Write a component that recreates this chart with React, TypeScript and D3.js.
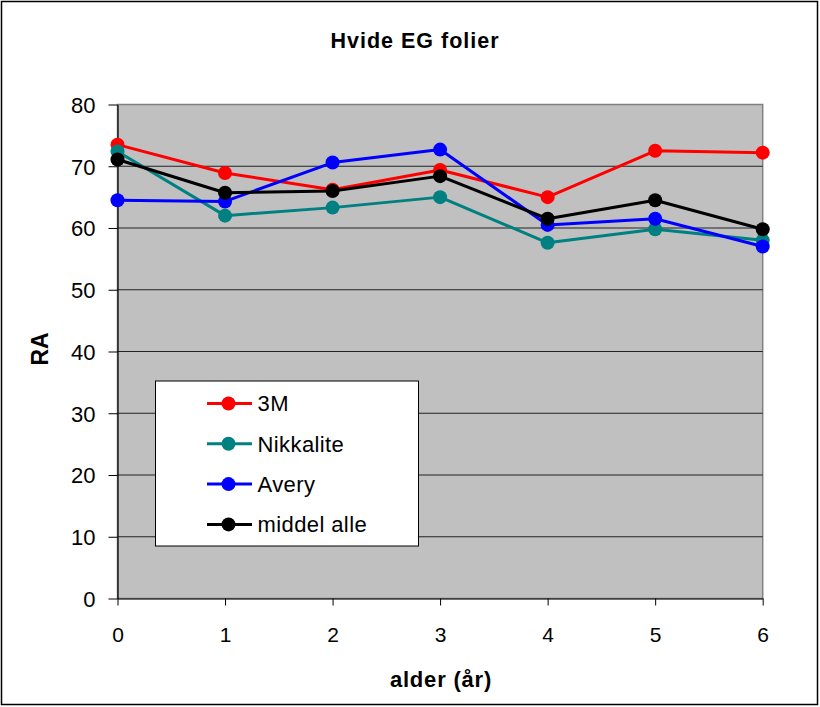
import React, { useEffect, useRef } from "react";
import * as d3 from "d3";

const years = [0, 1, 2, 3, 4, 5, 6];
const yTicks = [0, 10, 20, 30, 40, 50, 60, 70, 80];
const seriesNames = ["3M", "Nikkalite", "Avery", "middel alle"];
const seriesColors = ["#ff0000", "#008080", "#0000ff", "#000000"];
const values3M = [73.5, 68.9, 66.2, 69.4, 65.0, 72.5, 72.2];
const valuesNikkalite = [72.4, 62.0, 63.3, 65.0, 57.6, 59.8, 58.0];
const valuesAvery = [64.5, 64.3, 70.6, 72.7, 60.5, 61.5, 57.0];
const valuesMiddel = [71.1, 65.7, 66.0, 68.4, 61.5, 64.5, 59.8];

const W = 820;
const H = 707;
const font = "'Liberation Sans', Arial, sans-serif";

export default function App() {
	const ref = useRef<SVGSVGElement>(null);

	useEffect(() => {
		const svg = d3.select(ref.current);
		svg.selectAll("*").remove();

		const left = 117.5, right = 762.7, top = 104.5, bottom = 598.5;

		const x = d3.scaleLinear().domain([0, 6]).range([left, right]);
		const y = d3.scaleLinear().domain([0, 80]).range([bottom, top]);

		// outer frame
		svg.append("rect")
			.attr("x", 1.5).attr("y", 1.5)
			.attr("width", W - 4).attr("height", H - 4)
			.attr("fill", "#fff").attr("stroke", "#000").attr("stroke-width", 1.5);

		svg.append("text")
			.attr("x", 415).attr("y", 47.5)
			.attr("text-anchor", "middle")
			.attr("font-family", font).attr("font-weight", "bold").attr("font-size", 21.5)
			.attr("letter-spacing", 1)
			.text("Hvide EG folier");

		// plot area
		svg.append("rect")
			.attr("x", left).attr("y", top)
			.attr("width", right - left).attr("height", bottom - top)
			.attr("fill", "#c0c0c0").attr("stroke", "#808080").attr("stroke-width", 1.5);

		// gridlines
		svg.append("g").selectAll("line")
			.data(yTicks.filter(d => d > 0 && d < 80))
			.join("line")
			.attr("x1", left).attr("x2", right)
			.attr("y1", d => y(d)).attr("y2", d => y(d))
			.attr("stroke", "#222").attr("stroke-width", 1);

		// y axis
		const yAxis = svg.append("g")
			.attr("transform", `translate(${left},0)`)
			.call(d3.axisLeft(y).tickValues(yTicks).tickFormat(d3.format("d")).tickSize(9).tickPadding(13).tickSizeOuter(0));
		yAxis.select(".domain").attr("stroke", "#000").attr("stroke-width", 1.2);
		yAxis.selectAll(".tick line").attr("stroke", "#000");
		yAxis.selectAll("text")
			.attr("font-family", font).attr("font-size", 22).attr("fill", "#000")
			.attr("dy", "0.36em");

		// x axis
		const xAxis = svg.append("g")
			.attr("transform", `translate(0,${bottom})`)
			.call(d3.axisBottom(x).tickValues(years).tickFormat(d3.format("d")).tickSize(7).tickPadding(22).tickSizeOuter(0));
		xAxis.select(".domain").attr("stroke", "#000").attr("stroke-width", 1.2);
		xAxis.selectAll(".tick line").attr("stroke", "#000");
		xAxis.selectAll("text")
			.attr("font-family", font).attr("font-size", 21).attr("fill", "#000");

		svg.append("text")
			.attr("x", 441).attr("y", 687)
			.attr("text-anchor", "middle")
			.attr("font-family", font).attr("font-weight", "bold").attr("font-size", 22)
			.attr("letter-spacing", 0.8)
			.text("alder (år)");

		svg.append("text")
			.attr("transform", `translate(48,349) rotate(-90)`)
			.attr("text-anchor", "middle")
			.attr("font-family", font).attr("font-weight", "bold").attr("font-size", 23)
			.text("RA");

		const allSeries = [values3M, valuesNikkalite, valuesAvery, valuesMiddel];
		const line = d3.line<number>()
			.x((d, i) => x(years[i]))
			.y(d => y(d));

		allSeries.forEach((vals, s) => {
			const g = svg.append("g");
			g.append("path")
				.datum(vals)
				.attr("fill", "none")
				.attr("stroke", seriesColors[s])
				.attr("stroke-width", 3)
				.attr("stroke-linejoin", "round")
				.attr("d", line);
			g.selectAll("circle")
				.data(vals)
				.join("circle")
				.attr("cx", (d, i) => x(years[i]))
				.attr("cy", d => y(d))
				.attr("r", 7)
				.attr("fill", seriesColors[s]);
		});

		// legend
		const lg = svg.append("g");
		lg.append("rect")
			.attr("x", 155.5).attr("y", 381)
			.attr("width", 263).attr("height", 165)
			.attr("fill", "#fff").attr("stroke", "#000").attr("stroke-width", 1);
		seriesNames.forEach((name, i) => {
			const cy = 403.5 + i * 40.3;
			lg.append("line")
				.attr("x1", 207).attr("x2", 252)
				.attr("y1", cy).attr("y2", cy)
				.attr("stroke", seriesColors[i]).attr("stroke-width", 3);
			lg.append("circle")
				.attr("cx", 228.5).attr("cy", cy).attr("r", 7)
				.attr("fill", seriesColors[i]);
			lg.append("text")
				.attr("x", 257.5).attr("y", cy)
				.attr("dy", "0.35em")
				.attr("font-family", font).attr("font-size", 22)
				.attr("letter-spacing", 0.4)
				.text(name);
		});
	}, []);

	return (
		<svg ref={ref} width={W} height={H}
			style={{ position: "absolute", left: 0, top: 0, display: "block" }} />
	);
}
